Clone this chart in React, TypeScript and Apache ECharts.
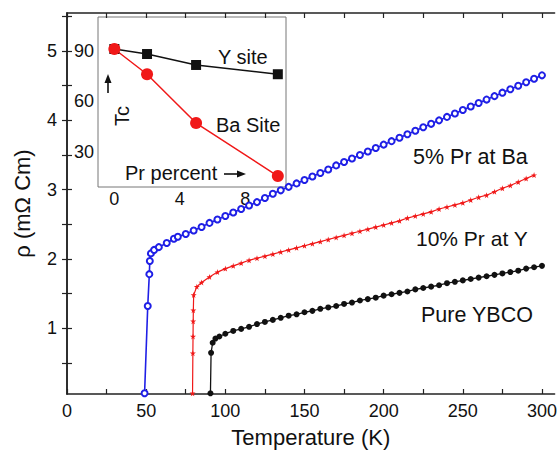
import React, { useEffect, useRef } from "react";
import * as echarts from "echarts";

// ---- axis ticks / labels ----
const xTickValues = [0, 25, 50, 75, 100, 125, 150, 175, 200, 225, 250, 275, 300];
const xLabelValues = [0, 50, 100, 150, 200, 250, 300];
const yTickValues = [0.5, 1, 1.5, 2, 2.5, 3, 3.5, 4, 4.5, 5, 5.5];
const yLabelValues = [1, 2, 3, 4, 5];
const insetXLabelValues = [0, 4, 8];
const insetYLabelValues = [30, 60, 90];

// ---- 5% Pr at Ba (blue, open circles) ----
const tempBa = [49, 51, 52, 52.3, 53, 55, 58, 63, 67.5, 70, 75, 80, 85, 90, 95, 100, 105, 110, 115, 120, 125, 130, 135, 140, 145, 150, 155, 160, 165, 170, 175, 180, 185, 190, 195, 200, 205, 210, 215, 220, 225, 230, 235, 240, 245, 250, 255, 260, 265, 270, 275, 280, 285, 290, 295, 300];
const rhoBa = [0.06, 1.32, 1.78, 1.97, 2.08, 2.13, 2.17, 2.23, 2.29, 2.32, 2.36, 2.41, 2.46, 2.52, 2.57, 2.62, 2.67, 2.72, 2.77, 2.82, 2.88, 2.94, 2.99, 3.04, 3.09, 3.14, 3.19, 3.24, 3.29, 3.35, 3.4, 3.45, 3.5, 3.55, 3.6, 3.65, 3.7, 3.75, 3.8, 3.85, 3.9, 3.95, 4.0, 4.05, 4.1, 4.15, 4.2, 4.25, 4.3, 4.35, 4.4, 4.45, 4.5, 4.55, 4.6, 4.65];

// ---- 10% Pr at Y (red, stars) ----
const tempY = [79.3, 79.5, 79.6, 79.7, 79.8, 80, 82, 85, 90, 95, 100, 105, 110, 115, 120, 125, 130, 135, 140, 145, 150, 155, 160, 165, 170, 175, 180, 185, 190, 195, 200, 205, 210, 215, 220, 225, 230, 235, 240, 245, 250, 255, 260, 265, 270, 275, 280, 285, 290, 295];
const rhoY = [0.06, 0.64, 0.88, 1.1, 1.26, 1.48, 1.6, 1.66, 1.74, 1.81, 1.86, 1.9, 1.94, 1.98, 2.01, 2.04, 2.07, 2.1, 2.13, 2.16, 2.19, 2.22, 2.25, 2.28, 2.31, 2.34, 2.37, 2.4, 2.43, 2.46, 2.49, 2.52, 2.55, 2.59, 2.62, 2.65, 2.68, 2.72, 2.75, 2.78, 2.81, 2.85, 2.89, 2.92, 2.97, 3.02, 3.06, 3.11, 3.16, 3.21];

// ---- Pure YBCO (black, filled circles) ----
const tempPure = [90.6, 91, 92, 93.75, 96.25, 100, 105, 110, 115, 120, 125, 130, 135, 140, 145, 150, 155, 160, 165, 170, 175, 180, 185, 190, 195, 200, 205, 210, 215, 220, 225, 230, 235, 240, 245, 250, 255, 260, 265, 270, 275, 280, 285, 290, 295, 300];
const rhoPure = [0.06, 0.645, 0.79, 0.85, 0.88, 0.92, 0.96, 0.99, 1.02, 1.06, 1.09, 1.12, 1.15, 1.18, 1.2, 1.23, 1.25, 1.28, 1.3, 1.32, 1.35, 1.37, 1.4, 1.42, 1.44, 1.47, 1.49, 1.51, 1.53, 1.56, 1.58, 1.6, 1.62, 1.65, 1.67, 1.69, 1.71, 1.73, 1.75, 1.77, 1.79, 1.81, 1.83, 1.86, 1.88, 1.9];

// ---- inset: Tc vs Pr percent ----
const prPercent = [0, 2, 5, 10];
const tcYSite = [91, 88, 81.5, 76];
const tcBaSite = [91, 76, 47, 15.5];

const FONT = "Liberation Sans";
const STAR = "path://M50,0 L61,35 L98,35 L68,57 L79,91 L50,70 L21,91 L32,57 L2,35 L39,35 Z";
const BLUE = "#1f1fe6";
const RED = "#f01818";
const DARK = "#111";

const zip = (a: number[], b: number[]) => a.map((v, i) => [v, b[i]]);

export default function App() {
  const ref = useRef<HTMLDivElement>(null);
  useEffect(() => {
    if (!ref.current) return;
    const chart = echarts.init(ref.current, undefined, { renderer: "svg" });
    const mainX = { min: 0, max: 308 };
    const mainY = { min: 0.05, max: 5.55 };
    const frameLine = { show: true, lineStyle: { color: "#222", width: 1.5 } };
    const txt = (size: number) => ({ fontSize: size, fontFamily: FONT, fill: DARK });
    chart.setOption({
      animation: false,
      backgroundColor: "#fff",
      textStyle: { fontFamily: FONT },
      grid: [
        { left: 67, right: 1, top: 13, bottom: 55 },
        { left: 98, top: 17, width: 188, height: 170, show: true, borderColor: "#777", borderWidth: 1, backgroundColor: "transparent" },
      ],
      xAxis: [
        {
          type: "value", gridIndex: 0, position: "bottom", ...mainX,
          name: "Temperature (K)", nameLocation: "middle", nameGap: 32,
          nameTextStyle: { fontSize: 22, color: DARK, fontFamily: FONT },
          axisLine: frameLine,
          axisTick: { show: true, inside: true, length: 5, customValues: xTickValues, lineStyle: { color: "#222", width: 1.2 } },
          axisLabel: { customValues: xLabelValues, fontSize: 18, color: DARK, margin: 8, fontFamily: FONT },
          splitLine: { show: false },
        },
        {
          type: "value", gridIndex: 0, position: "top", ...mainX,
          axisLine: frameLine,
          axisTick: { show: true, inside: true, length: 5, customValues: xTickValues, lineStyle: { color: "#222", width: 1.2 } },
          axisLabel: { show: false },
          splitLine: { show: false },
        },
        {
          type: "value", gridIndex: 1, min: -1, max: 10.5,
          axisLine: { show: false },
          axisTick: { show: false },
          axisLabel: { customValues: insetXLabelValues, fontSize: 18, color: DARK, margin: 3, fontFamily: FONT },
          splitLine: { show: false },
        },
      ],
      yAxis: [
        {
          type: "value", gridIndex: 0, position: "left", ...mainY,
          name: "ρ (mΩ Cm)", nameLocation: "middle", nameGap: 34,
          nameTextStyle: { fontSize: 22, color: DARK, fontFamily: FONT },
          axisLine: frameLine,
          axisTick: { show: true, inside: true, length: 5, customValues: yTickValues, lineStyle: { color: "#222", width: 1.2 } },
          axisLabel: { customValues: yLabelValues, fontSize: 18, color: DARK, margin: 10, fontFamily: FONT },
          splitLine: { show: false },
        },
        {
          type: "value", gridIndex: 0, position: "right", ...mainY,
          axisLine: frameLine,
          axisTick: { show: true, inside: true, length: 5, customValues: yTickValues, lineStyle: { color: "#222", width: 1.2 } },
          axisLabel: { show: false },
          splitLine: { show: false },
        },
        {
          type: "value", gridIndex: 1, min: 9, max: 110,
          axisLine: { show: false },
          axisTick: { show: false },
          axisLabel: { customValues: insetYLabelValues, fontSize: 18, color: DARK, margin: 4, fontFamily: FONT },
          splitLine: { show: false },
        },
      ],
      series: [
        {
          name: "5% Pr at Ba", type: "line", xAxisIndex: 0, yAxisIndex: 0,
          data: zip(tempBa, rhoBa), symbol: "emptyCircle", symbolSize: 6,
          lineStyle: { color: BLUE, width: 1.6 }, itemStyle: { color: BLUE, borderColor: "#6262ee", borderWidth: 1 },
        },
        {
          name: "10% Pr at Y", type: "line", xAxisIndex: 0, yAxisIndex: 0,
          data: zip(tempY, rhoY), symbol: STAR, symbolSize: 6,
          lineStyle: { color: RED, width: 1.2 }, itemStyle: { color: RED },
        },
        {
          name: "Pure YBCO", type: "line", xAxisIndex: 0, yAxisIndex: 0,
          data: zip(tempPure, rhoPure), symbol: "circle", symbolSize: 6,
          lineStyle: { color: DARK, width: 1.3 }, itemStyle: { color: DARK },
        },
        {
          name: "Y site", type: "line", xAxisIndex: 2, yAxisIndex: 2,
          data: zip(prPercent, tcYSite), symbol: "rect", symbolSize: 10,
          lineStyle: { color: DARK, width: 1.5 }, itemStyle: { color: DARK },
        },
        {
          name: "Ba Site", type: "line", xAxisIndex: 2, yAxisIndex: 2,
          data: zip(prPercent, tcBaSite), symbol: "circle", symbolSize: 12,
          lineStyle: { color: RED, width: 1.5 }, itemStyle: { color: RED },
        },
      ],
      graphic: [
        { type: "text", x: 413, y: 157, style: { text: "5% Pr at Ba", ...txt(21.5), textVerticalAlign: "middle" } },
        { type: "text", x: 416, y: 238, style: { text: "10% Pr at Y", ...txt(21), textVerticalAlign: "middle" } },
        { type: "text", x: 421, y: 315, style: { text: "Pure YBCO", ...txt(21.5), textVerticalAlign: "middle" } },
        { type: "text", x: 218, y: 57, style: { text: "Y site", ...txt(20), textVerticalAlign: "middle" } },
        { type: "text", x: 216, y: 125, style: { text: "Ba Site", ...txt(20), textVerticalAlign: "middle" } },
        { type: "text", x: 125, y: 173, style: { text: "Pr percent", ...txt(20), textVerticalAlign: "middle" } },
        { type: "line", shape: { x1: 224, y1: 174, x2: 239, y2: 174 }, style: { stroke: DARK, lineWidth: 1.6 } },
        { type: "polygon", shape: { points: [[237, 170.5], [246, 174], [237, 177.5]] }, style: { fill: DARK } },
        {
          type: "group", x: 122, y: 116, rotation: Math.PI / 2,
          children: [{ type: "text", x: 0, y: 0, style: { text: "Tc", ...txt(20), textAlign: "center", textVerticalAlign: "middle" } }],
        },
        { type: "line", shape: { x1: 108, y1: 93, x2: 108, y2: 81 }, style: { stroke: DARK, lineWidth: 1.6 } },
        { type: "polygon", shape: { points: [[104.5, 83], [108, 74], [111.5, 83]] }, style: { fill: DARK } },
      ],
    });
    return () => chart.dispose();
  }, []);
  return <div ref={ref} style={{ position: "fixed", left: 0, top: 0, width: 560, height: 453 }} />;
}
